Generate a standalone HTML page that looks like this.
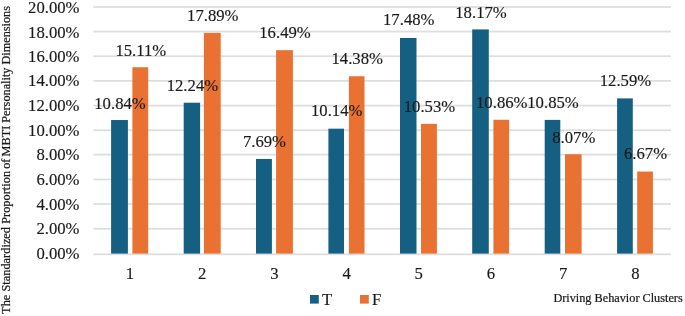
<!DOCTYPE html>
<html><head><meta charset="utf-8"><style>
html,body{margin:0;padding:0;background:#fff;}
svg{display:block;filter:blur(0.3px);}
.t{font-family:"Liberation Serif",serif;font-size:16.7px;fill:#1a1a1a;stroke:#1a1a1a;stroke-width:0.15px;}
.s{font-family:"Liberation Serif",serif;font-size:12.25px;fill:#1a1a1a;stroke:#1a1a1a;stroke-width:0.22px;}
</style></head><body>
<svg width="685" height="316" viewBox="0 0 685 316">
<rect width="685" height="316" fill="#fff"/>
<rect x="93.5" y="253.40" width="577.5" height="1.8" fill="#dedede"/>
<rect x="93.5" y="227.90" width="577.5" height="1.8" fill="#dedede"/>
<rect x="93.5" y="203.10" width="577.5" height="1.8" fill="#dedede"/>
<rect x="93.5" y="178.60" width="577.5" height="1.8" fill="#dedede"/>
<rect x="93.5" y="153.70" width="577.5" height="1.8" fill="#dedede"/>
<rect x="93.5" y="129.35" width="577.5" height="1.8" fill="#dedede"/>
<rect x="93.5" y="104.70" width="577.5" height="1.8" fill="#dedede"/>
<rect x="93.5" y="79.95" width="577.5" height="1.8" fill="#dedede"/>
<rect x="93.5" y="55.35" width="577.5" height="1.8" fill="#dedede"/>
<rect x="93.5" y="30.65" width="577.5" height="1.8" fill="#dedede"/>
<rect x="93.5" y="6.10" width="577.5" height="1.8" fill="#dedede"/>
<text x="79.5" y="258.90" text-anchor="end" class="t">0.00%</text>
<text x="79.5" y="234.28" text-anchor="end" class="t">2.00%</text>
<text x="79.5" y="209.56" text-anchor="end" class="t">4.00%</text>
<text x="79.5" y="185.14" text-anchor="end" class="t">6.00%</text>
<text x="79.5" y="160.22" text-anchor="end" class="t">8.00%</text>
<text x="79.5" y="135.60" text-anchor="end" class="t">10.00%</text>
<text x="79.5" y="110.98" text-anchor="end" class="t">12.00%</text>
<text x="79.5" y="86.16" text-anchor="end" class="t">14.00%</text>
<text x="79.5" y="61.84" text-anchor="end" class="t">16.00%</text>
<text x="79.5" y="37.72" text-anchor="end" class="t">18.00%</text>
<text x="79.5" y="13.20" text-anchor="end" class="t">20.00%</text>
<rect x="111.10" y="120.02" width="16.80" height="133.58" fill="#156082"/>
<rect x="132.40" y="67.24" width="15.80" height="186.36" fill="#e97132"/>
<rect x="183.70" y="102.71" width="16.40" height="150.89" fill="#156082"/>
<rect x="203.90" y="32.88" width="16.80" height="220.72" fill="#e97132"/>
<rect x="256.00" y="158.95" width="15.90" height="94.65" fill="#156082"/>
<rect x="276.10" y="50.18" width="16.80" height="203.42" fill="#e97132"/>
<rect x="328.40" y="128.67" width="15.60" height="124.93" fill="#156082"/>
<rect x="348.90" y="76.26" width="15.60" height="177.34" fill="#e97132"/>
<rect x="400.00" y="37.95" width="16.50" height="215.65" fill="#156082"/>
<rect x="421.00" y="123.85" width="15.90" height="129.75" fill="#e97132"/>
<rect x="472.20" y="29.42" width="16.60" height="224.18" fill="#156082"/>
<rect x="493.40" y="119.77" width="15.70" height="133.83" fill="#e97132"/>
<rect x="544.70" y="119.89" width="15.60" height="133.71" fill="#156082"/>
<rect x="565.00" y="154.25" width="16.60" height="99.35" fill="#e97132"/>
<rect x="617.10" y="98.39" width="15.70" height="155.21" fill="#156082"/>
<rect x="637.20" y="171.56" width="15.70" height="82.04" fill="#e97132"/>
<text x="120.00" y="108.62" text-anchor="middle" class="t">10.84%</text>
<text x="140.80" y="55.64" text-anchor="middle" class="t">15.11%</text>
<text x="192.40" y="91.31" text-anchor="middle" class="t">12.24%</text>
<text x="212.80" y="21.28" text-anchor="middle" class="t">17.89%</text>
<text x="264.45" y="146.75" text-anchor="middle" class="t">7.69%</text>
<text x="285.00" y="37.78" text-anchor="middle" class="t">16.49%</text>
<text x="336.70" y="116.37" text-anchor="middle" class="t">10.14%</text>
<text x="357.20" y="63.86" text-anchor="middle" class="t">14.38%</text>
<text x="408.75" y="25.35" text-anchor="middle" class="t">17.48%</text>
<text x="429.45" y="112.15" text-anchor="middle" class="t">10.53%</text>
<text x="481.00" y="17.82" text-anchor="middle" class="t">18.17%</text>
<text x="501.75" y="107.87" text-anchor="middle" class="t">10.86%</text>
<text x="553.00" y="108.49" text-anchor="middle" class="t">10.85%</text>
<text x="573.80" y="142.55" text-anchor="middle" class="t">8.07%</text>
<text x="625.45" y="85.89" text-anchor="middle" class="t">12.59%</text>
<text x="645.55" y="159.16" text-anchor="middle" class="t">6.67%</text>
<text x="129.99" y="278.7" text-anchor="middle" class="t">1</text>
<text x="202.18" y="278.7" text-anchor="middle" class="t">2</text>
<text x="274.37" y="278.7" text-anchor="middle" class="t">3</text>
<text x="346.56" y="278.7" text-anchor="middle" class="t">4</text>
<text x="418.74" y="278.7" text-anchor="middle" class="t">5</text>
<text x="490.93" y="278.7" text-anchor="middle" class="t">6</text>
<text x="563.12" y="278.7" text-anchor="middle" class="t">7</text>
<text x="635.31" y="278.7" text-anchor="middle" class="t">8</text>
<rect x="310" y="295" width="8.8" height="8.6" fill="#156082"/>
<text x="322.1" y="304.8" class="t">T</text>
<circle cx="333.3" cy="300.6" r="0.6" fill="#d8d8d8"/><circle cx="333.3" cy="305.3" r="0.6" fill="#e0e0e0"/>
<rect x="360" y="295" width="8.8" height="8.6" fill="#e97132"/>
<text x="372" y="304.8" class="t">F</text>
<text x="553.4" y="302" class="s">Driving Behavior Clusters</text>
<text transform="translate(10.1,313.9) rotate(-90)" class="s" textLength="143" lengthAdjust="spacing">The Standardized Proportion</text>
<text transform="translate(10.1,168.85) rotate(-90)" class="s">of</text>
<text transform="translate(10.1,156.4) rotate(-90)" class="s">MBTI Personality Dimensions</text>
</svg>
</body></html>
